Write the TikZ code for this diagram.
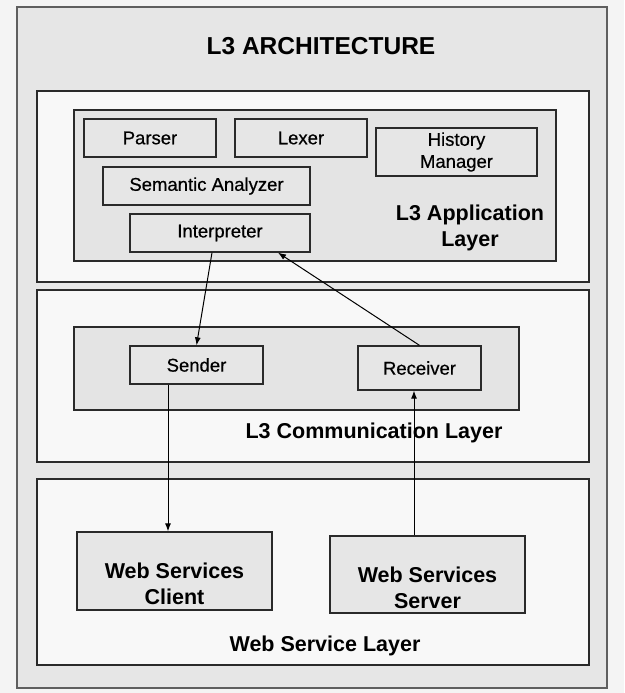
\documentclass[tikz,border=0pt]{standalone}
\usepackage{fontspec}
\setmainfont{Liberation Sans}
\newfontfamily\medfont[FakeBold=0.5]{Liberation Sans}
\usetikzlibrary{arrows.meta}
\definecolor{bgout}{HTML}{F4F4F4}
\definecolor{framefill}{HTML}{E6E6E6}
\definecolor{layerfill}{HTML}{F8F8F8}
\definecolor{innerfill}{HTML}{E4E4E4}
\definecolor{boxfill}{HTML}{E6E6E6}
\definecolor{edge}{HTML}{2A2A2A}
\tikzset{
  frame/.style={draw=edge!75, fill=framefill, line width=1.4pt, inner sep=0pt},
  layer/.style={draw=edge, fill=layerfill, line width=1.3pt, inner sep=0pt},
  inner/.style={draw=edge, fill=innerfill, line width=1.3pt, inner sep=0pt},
  box/.style={draw=edge, fill=boxfill, line width=1.3pt, inner sep=0pt, align=center, font=\medfont\fontsize{18.5}{22}\selectfont},
  bigbox/.style={draw=edge, fill=boxfill, line width=1.3pt, inner sep=0pt},
  lab/.style={align=center, inner sep=0pt, font=\fontsize{21.5}{26}\selectfont\bfseries},
  conn/.style={draw=black, line width=1pt, -{Latex[length=8pt,width=6pt]}}
}
\begin{document}
\begin{tikzpicture}[x=1pt,y=-1pt]
\fill[bgout] (0,0) rectangle (624,693);
\useasboundingbox (0,0) rectangle (624,693);
\node[frame, minimum width=590pt, minimum height=681pt] (outer) at (312,347.5) {};
\node[lab, font=\fontsize{24.5}{28}\selectfont\bfseries] (title) at (321,46) {L3 ARCHITECTURE};
% application layer
\node[layer, minimum width=552pt, minimum height=191pt] (app) at (313,186.5) {};
\node[inner, minimum width=482pt, minimum height=151pt] (appin) at (315,185.5) {};
\node[box, minimum width=132pt, minimum height=38pt] (parser) at (150,138) {Parser};
\node[box, minimum width=132pt, minimum height=38pt] (lexer) at (301,138) {Lexer};
\node[box, minimum width=161pt, minimum height=48pt] (history) at (456.5,152) {History\\Manager};
\node[box, minimum width=207pt, minimum height=38pt] (semantic) at (206.5,186) {Semantic Analyzer};
\node[box, minimum width=180pt, minimum height=38pt] (interp) at (220,233) {Interpreter};
\node[lab] (applab) at (470,228) {L3 Application\\Layer};
% communication layer
\node[layer, minimum width=552pt, minimum height=172pt] (comm) at (313,376) {};
\node[inner, minimum width=445pt, minimum height=83pt] (commin) at (296.5,368.5) {};
\node[box, minimum width=133pt, minimum height=38pt] (sender) at (196.5,365) {Sender};
\node[box, minimum width=123pt, minimum height=44pt] (receiver) at (419.5,368) {Receiver};
\node[lab] (commlab) at (374,433) {L3 Communication Layer};
% web service layer
\node[layer, minimum width=552pt, minimum height=186pt] (web) at (313,572) {};
\node[bigbox, minimum width=195pt, minimum height=78pt] (client) at (174.5,571) {};
\node[lab] (clienttext) at ([yshift=-13pt]client.center) {Web Services\\Client};
\node[bigbox, minimum width=195pt, minimum height=77pt] (server) at (427.5,574.5) {};
\node[lab] (servertext) at ([yshift=-13pt]server.center) {Web Services\\Server};
\node[lab] (weblab) at (325,646) {Web Service Layer};
% connectors
\draw[conn] ([xshift=-8pt]interp.south) -- (sender.north);
\draw[conn] (receiver.north) -- ([xshift=58pt]interp.south);
\draw[conn] ([xshift=-28.5pt]sender.south) -- ([xshift=-6.5pt]client.north);
\draw[conn] ([xshift=-13.5pt]server.north) -- ([xshift=-5.5pt]receiver.south);
\end{tikzpicture}
\end{document}
